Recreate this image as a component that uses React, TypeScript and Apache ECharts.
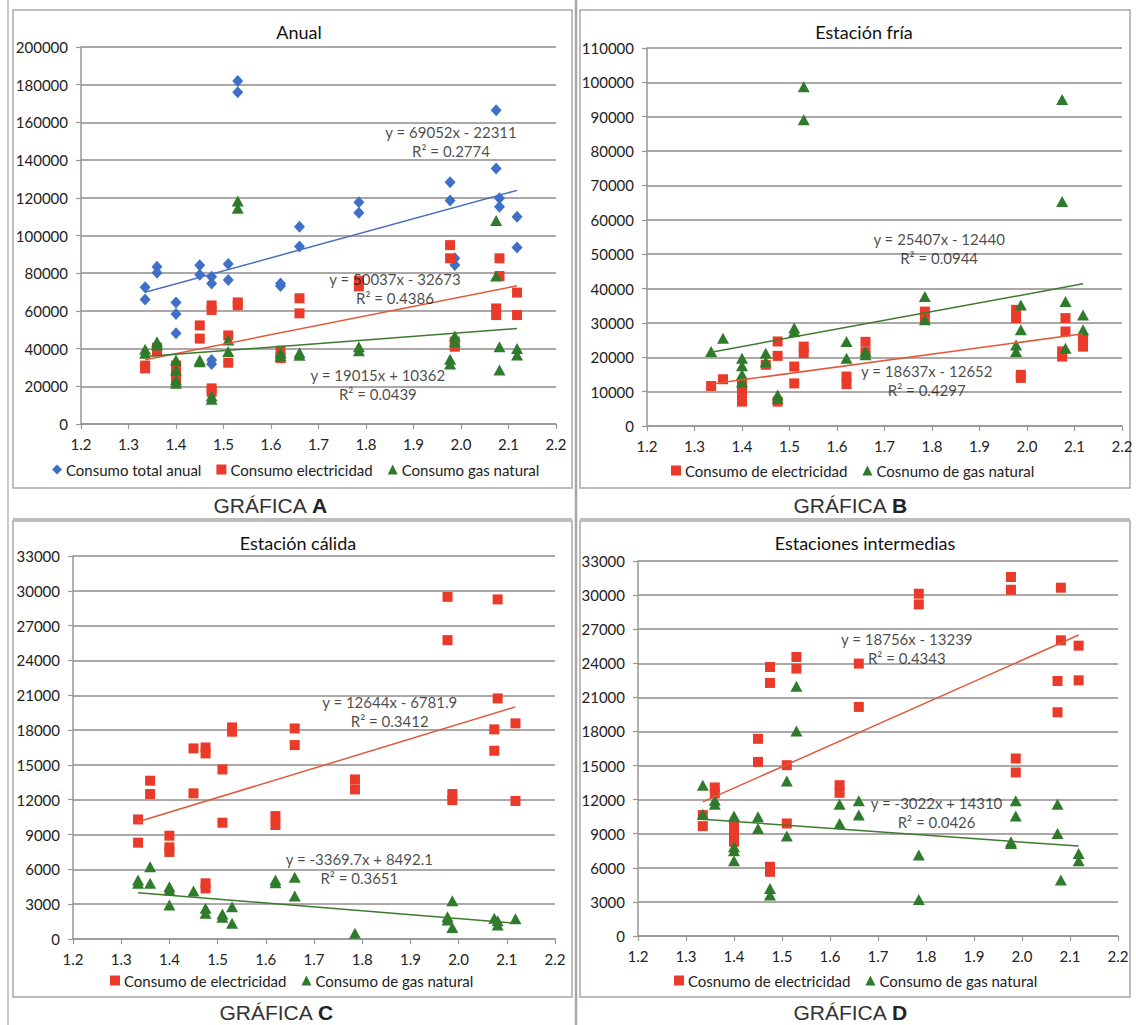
import React, { useEffect, useRef } from "react";
import * as echarts from "echarts";

type Pt = [number, number];

// ---------- DATA ----------
const xTickMin = 1.2;
const xTickMax = 2.2;
const xTickStep = 0.1;

// Panel A – Anual
const aTitle = "Anual";
const aYMax = 200000;
const aYStep = 20000;
const aTotal: Pt[] = [
  [1.335, 72500], [1.335, 66100], [1.36, 83400], [1.36, 80300],
  [1.4, 64400], [1.4, 58300], [1.4, 48100], [1.45, 84200], [1.45, 79200],
  [1.475, 78100], [1.475, 74600], [1.475, 33900], [1.475, 31800],
  [1.51, 84900], [1.51, 76400], [1.53, 182000], [1.53, 176000],
  [1.62, 74600], [1.62, 73200], [1.66, 104700], [1.66, 94100],
  [1.785, 117700], [1.785, 112100], [1.977, 128200], [1.977, 118600],
  [1.987, 87900], [1.987, 84300], [2.074, 166500], [2.074, 135600],
  [2.081, 119700], [2.081, 115300], [2.118, 110000], [2.118, 93700],
];
const aElec: Pt[] = [
  [1.335, 31000], [1.335, 29500], [1.36, 40500], [1.36, 38500],
  [1.4, 31000], [1.4, 27000], [1.4, 23500], [1.45, 52300], [1.45, 45300],
  [1.475, 62900], [1.475, 60500], [1.475, 18900], [1.475, 17100],
  [1.51, 47000], [1.51, 32500], [1.53, 64500], [1.53, 63000],
  [1.62, 38900], [1.62, 35000], [1.66, 66700], [1.66, 58700],
  [1.785, 76000], [1.785, 73000], [1.977, 94900], [1.977, 87900],
  [1.987, 43700], [1.987, 41000], [2.074, 61300], [2.074, 57800],
  [2.081, 87900], [2.081, 78500], [2.118, 69700], [2.118, 57800],
];
const aGas: Pt[] = [
  [1.335, 39600], [1.335, 37500], [1.36, 43700], [1.36, 41900],
  [1.4, 33900], [1.4, 28600], [1.4, 23300], [1.4, 21600], [1.45, 33900], [1.45, 33000],
  [1.475, 14900], [1.475, 13100], [1.51, 44600], [1.51, 38400],
  [1.53, 118300], [1.53, 114400], [1.62, 37800], [1.62, 36100],
  [1.66, 37800], [1.66, 36500], [1.785, 41000], [1.785, 38900],
  [1.977, 34300], [1.977, 31800], [1.987, 46700], [1.987, 43700],
  [2.074, 108000], [2.074, 78500], [2.081, 41000], [2.081, 28600],
  [2.118, 40100], [2.118, 36600],
];
const aTrendTotal = { slope: 69052, intercept: -22311, r2: "0.2774", at: [1.979, 149800] as Pt };
const aTrendElec = { slope: 50037, intercept: -32673, r2: "0.4386", at: [1.861, 71900] as Pt };
const aTrendGas = { slope: 19015, intercept: 10362, r2: "0.0439", at: [1.825, 20700] as Pt };

// Panel B – Estación fría
const bTitle = "Estación fría";
const bYMax = 110000;
const bYStep = 10000;
const bElec: Pt[] = [
  [1.335, 11650], [1.36, 13600], [1.4, 12000], [1.4, 9800], [1.4, 7100],
  [1.45, 17800], [1.475, 24600], [1.475, 20400], [1.475, 7100],
  [1.51, 17300], [1.51, 12400], [1.53, 23100], [1.53, 21200],
  [1.62, 14400], [1.62, 12200], [1.66, 24500], [1.66, 21500],
  [1.785, 33300], [1.785, 31400], [1.977, 33800], [1.977, 31400],
  [1.987, 14900], [1.987, 14000], [2.074, 21700], [2.074, 20200],
  [2.081, 31400], [2.081, 27500], [2.118, 25100], [2.118, 23100],
];
const bGas: Pt[] = [
  [1.335, 21700], [1.36, 25500], [1.4, 19700], [1.4, 17500], [1.4, 15000], [1.4, 12800],
  [1.45, 21200], [1.45, 18700], [1.475, 9000], [1.475, 8100],
  [1.51, 28500], [1.51, 27500], [1.53, 98700], [1.53, 89100],
  [1.62, 24600], [1.62, 19700], [1.66, 21700], [1.66, 20700],
  [1.785, 37700], [1.785, 30900], [1.977, 23600], [1.977, 21700],
  [1.987, 35200], [1.987, 28000], [2.074, 95000], [2.074, 65300],
  [2.081, 36200], [2.081, 22600], [2.118, 32300], [2.118, 28000],
];
const bTrendElec = { slope: 18637, intercept: -12652, r2: "0.4297", at: [1.789, 13100] as Pt };
const bTrendGas = { slope: 25407, intercept: -12440, r2: "0.0944", at: [1.815, 51600] as Pt };

// Panel C – Estación cálida
const cTitle = "Estación cálida";
const cYMax = 33000;
const cYStep = 3000;
const cElec: Pt[] = [
  [1.335, 10300], [1.335, 8300], [1.36, 13640], [1.36, 12490],
  [1.4, 8900], [1.4, 7900], [1.4, 7500], [1.45, 16420], [1.45, 12550],
  [1.475, 16500], [1.475, 15990], [1.475, 4800], [1.475, 4360],
  [1.51, 14610], [1.51, 10020], [1.53, 18230], [1.53, 17860],
  [1.62, 10590], [1.62, 9820], [1.66, 18140], [1.66, 16710],
  [1.785, 13750], [1.785, 12890], [1.977, 29480], [1.977, 25750],
  [1.987, 12490], [1.987, 11970], [2.074, 18060], [2.074, 16220],
  [2.081, 29260], [2.081, 20730], [2.118, 18580], [2.118, 11890],
];
const cGas: Pt[] = [
  [1.335, 5080], [1.335, 4800], [1.36, 6230], [1.36, 4800],
  [1.4, 4510], [1.4, 4220], [1.4, 2930], [1.45, 4130],
  [1.475, 2640], [1.475, 2210], [1.51, 2150], [1.51, 1870],
  [1.53, 2780], [1.53, 1350], [1.62, 5080], [1.62, 4850],
  [1.66, 5310], [1.66, 3700], [1.785, 490], [1.977, 1920], [1.977, 1640],
  [1.987, 3300], [1.987, 1000], [2.074, 1780], [2.081, 1580], [2.081, 1200],
  [2.118, 1750],
];
const cTrendElec = { slope: 12644, intercept: -6781.9, r2: "0.3412", at: [1.857, 19570] as Pt };
const cTrendGas = { slope: -3369.7, intercept: 8492.1, r2: "0.3651", at: [1.794, 6090] as Pt };

// Panel D – Estaciones intermedias
const dTitle = "Estaciones intermedias";
const dYMax = 33000;
const dYStep = 3000;
const dElec: Pt[] = [
  [1.335, 10640], [1.335, 9670], [1.36, 13070], [1.36, 12540],
  [1.4, 9670], [1.4, 8970], [1.4, 8290], [1.45, 17350], [1.45, 15320],
  [1.475, 23670], [1.475, 22270], [1.475, 6090], [1.475, 5650],
  [1.51, 15030], [1.51, 9900], [1.53, 24550], [1.53, 23530],
  [1.62, 13270], [1.62, 12600], [1.66, 23970], [1.66, 20160],
  [1.785, 30120], [1.785, 29180], [1.977, 31590], [1.977, 30470],
  [1.987, 15620], [1.987, 14390], [2.074, 22440], [2.074, 19690],
  [2.081, 30650], [2.081, 26020], [2.118, 25550], [2.118, 22500],
];
const dGas: Pt[] = [
  [1.335, 13270], [1.335, 10720], [1.36, 11950], [1.36, 11600],
  [1.4, 10550], [1.4, 7850], [1.4, 7500], [1.4, 6620], [1.45, 10490], [1.45, 9460],
  [1.475, 4190], [1.475, 3600], [1.51, 13650], [1.51, 8790],
  [1.53, 21980], [1.53, 18050], [1.62, 11600], [1.62, 9900],
  [1.66, 11900], [1.66, 10640], [1.785, 7120], [1.785, 3220],
  [1.977, 8290], [1.977, 8150], [1.987, 11900], [1.987, 10550],
  [2.074, 11600], [2.074, 9020], [2.081, 4920], [2.118, 7270], [2.118, 6620],
];
const dTrendElec = { slope: 18756, intercept: -13239, r2: "0.4343", at: [1.76, 25300] as Pt };
const dTrendGas = { slope: -3022, intercept: 14310, r2: "0.0426", at: [1.822, 10890] as Pt };

const captions = ["A", "B", "C", "D"];

// ---------- STYLE ----------
const FONT = 'Lato, "Open Sans", sans-serif';
const TXT = "#222222";
const GRID = "#928b8b";
const AXIS = "#9a9696";
const BORDER = "#aaa6a6";
const BLUE = "#3f6fc6";
const RED = "#ea3b2a";
const GREEN = "#2f7b2c";
const BLUE_L = "#4a6ec0";
const RED_L = "#e2583a";
const GREEN_L = "#3d7a2e";

type Trend = { slope: number; intercept: number; r2: string; at: Pt };
type SeriesCfg = { name: string; data: Pt[]; symbol: string; size: number | number[]; color: string; lineColor: string; trend: Trend };
type Panel = {
  title: string; titleX: number; titleY: number;
  grid: [number, number, number, number];
  yMax: number; yStep: number;
  legendLeft: number; legendTop: number;
  series: SeriesCfg[];
};

const DIAMOND = "diamond";
const SQUARE = "rect";
const TRI = "triangle";

const panels: Panel[] = [
  {
    title: aTitle, titleX: 294, titleY: 18, grid: [81, 47, 475, 377], yMax: aYMax, yStep: aYStep,
    legendLeft: 47, legendTop: 457,
    series: [
      { name: "Consumo total anual", data: aTotal, symbol: DIAMOND, size: [11, 12], color: BLUE, lineColor: BLUE_L, trend: aTrendTotal },
      { name: "Consumo electricidad", data: aElec, symbol: SQUARE, size: 10, color: RED, lineColor: RED_L, trend: aTrendElec },
      { name: "Consumo gas natural", data: aGas, symbol: TRI, size: [12, 11], color: GREEN, lineColor: GREEN_L, trend: aTrendGas },
    ],
  },
  {
    title: bTitle, titleX: 859, titleY: 18, grid: [647, 48, 475, 378], yMax: bYMax, yStep: bYStep,
    legendLeft: 666, legendTop: 458,
    series: [
      { name: "Consumo de electricidad", data: bElec, symbol: SQUARE, size: 10, color: RED, lineColor: RED_L, trend: bTrendElec },
      { name: "Cosnumo de gas natural", data: bGas, symbol: TRI, size: [12, 11], color: GREEN, lineColor: GREEN_L, trend: bTrendGas },
    ],
  },
  {
    title: cTitle, titleX: 293, titleY: 529, grid: [73, 556, 482, 383], yMax: cYMax, yStep: cYStep,
    legendLeft: 105, legendTop: 968,
    series: [
      { name: "Consumo de electricidad", data: cElec, symbol: SQUARE, size: 10, color: RED, lineColor: RED_L, trend: cTrendElec },
      { name: "Consumo de gas natural", data: cGas, symbol: TRI, size: [12, 11], color: GREEN, lineColor: GREEN_L, trend: cTrendGas },
    ],
  },
  {
    title: dTitle, titleX: 860, titleY: 529, grid: [638, 561, 480, 375], yMax: dYMax, yStep: dYStep,
    legendLeft: 669, legendTop: 968,
    series: [
      { name: "Cosnumo de electricidad", data: dElec, symbol: SQUARE, size: 10, color: RED, lineColor: RED_L, trend: dTrendElec },
      { name: "Consumo de gas natural", data: dGas, symbol: TRI, size: [12, 11], color: GREEN, lineColor: GREEN_L, trend: dTrendGas },
    ],
  },
];

const eqText = (t: Trend) =>
  `y = ${t.slope}x ${t.intercept < 0 ? "-" : "+"} ${Math.abs(t.intercept)}\nR² = ${t.r2}`;

function buildOption() {
  const grid: any[] = [];
  const xAxis: any[] = [];
  const yAxis: any[] = [];
  const series: any[] = [];
  const legend: any[] = [];
  const title: any[] = [];

  panels.forEach((p, i) => {
    grid.push({ left: p.grid[0], top: p.grid[1], width: p.grid[2], height: p.grid[3] });
    xAxis.push({
      gridIndex: i, type: "value", min: xTickMin, max: xTickMax, interval: xTickStep,
      axisLine: { show: true, onZero: false, lineStyle: { color: AXIS, width: 1.5 } },
      axisTick: { show: true, length: 5, lineStyle: { color: AXIS, width: 1.2 } },
      splitLine: { show: false },
      axisLabel: { formatter: (v: number) => v.toFixed(1), margin: 12, fontFamily: FONT, fontSize: 15, color: TXT, showMinLabel: true, showMaxLabel: true },
    });
    yAxis.push({
      gridIndex: i, type: "value", min: 0, max: p.yMax, interval: p.yStep,
      axisLine: { show: true, lineStyle: { color: AXIS, width: 1.5 } },
      axisTick: { show: true, length: 5, lineStyle: { color: AXIS, width: 1.2 } },
      splitLine: { show: true, lineStyle: { color: GRID, width: 1.6 } },
      axisLabel: { formatter: (v: number) => String(Math.round(v)), margin: 13, fontFamily: FONT, fontSize: 15, color: TXT },
    });
    title.push({
      text: p.title, left: p.titleX, top: p.titleY, textAlign: "center",
      textStyle: { fontFamily: FONT, fontSize: 18, fontWeight: "normal", color: "#111" },
    });
    legend.push({
      left: p.legendLeft, top: p.legendTop, itemWidth: 10, itemHeight: 10, itemGap: 15,
      textStyle: { fontFamily: FONT, fontSize: 15, color: TXT, padding: [0, 0, 0, -1] },
      data: p.series.map((s) => ({ name: s.name, icon: s.symbol, itemStyle: { color: s.color } })),
      selectedMode: false,
    });
    p.series.forEach((s) => {
      series.push({
        type: "scatter", name: s.name, xAxisIndex: i, yAxisIndex: i, data: s.data,
        symbol: s.symbol, symbolSize: s.size, itemStyle: { color: s.color, opacity: 1 }, z: 3,
      });
    });
    p.series.forEach((s, k) => {
      const xs = s.data.map((d) => d[0]);
      const x0 = Math.min(...xs);
      const x1 = Math.max(...xs);
      const f = (x: number) => s.trend.slope * x + s.trend.intercept;
      series.push({
        type: "line", name: `trend-${i}-${k}`, xAxisIndex: i, yAxisIndex: i,
        data: [[x0, f(x0)], [x1, f(x1)]], showSymbol: false, symbol: "none", silent: true,
        lineStyle: { color: s.lineColor, width: 1.5 }, z: 4,
      });
      series.push({
        type: "scatter", name: `label-${i}-${k}`, xAxisIndex: i, yAxisIndex: i,
        data: [s.trend.at], symbolSize: 0, silent: true, z: 5,
        label: {
          show: true, position: "inside", formatter: () => eqText(s.trend),
          fontFamily: FONT, fontSize: 15, color: "#1a1a1a", lineHeight: 19, align: "center",
        },
      });
    });
  });

  const elements: any[] = [];
  const rect = (x: number, y: number, w: number, h: number) => ({
    type: "rect", shape: { x, y, width: w, height: h }, silent: true,
    style: { fill: "none", stroke: BORDER, lineWidth: 1.5 },
  });
  const line = (x1: number, y1: number, x2: number, y2: number, w = 1.5) => ({
    type: "line", shape: { x1, y1, x2, y2 }, silent: true,
    style: { stroke: BORDER, lineWidth: w },
  });
  elements.push(rect(13, 10, 559, 478));
  elements.push(rect(580, 10, 550, 478));
  elements.push(rect(13, 521, 559, 476));
  elements.push(rect(580, 521, 550, 476));
  elements.push(line(13, 519, 572, 519));
  elements.push(line(580, 519, 1130, 519));
  elements.push(line(576, 0, 576, 1025, 2.5));
  elements.push(line(8, 0, 8, 1025, 1.2));
  const capPos: Pt[] = [[270, 505], [850, 505], [276, 1012], [850, 1012]];
  captions.forEach((c, i) => {
    elements.push({
      type: "text", x: capPos[i][0], y: capPos[i][1], silent: true,
      style: {
        text: `{a|GRÁFICA }{b|${c}}`, align: "center", verticalAlign: "middle",
        rich: {
          a: { fontFamily: '"Liberation Sans", Arial, sans-serif', fontSize: 21, fill: "#333" },
          b: { fontFamily: '"Liberation Sans", Arial, sans-serif', fontSize: 21, fontWeight: "bold", fill: "#222" },
        },
      },
    });
  });

  return {
    animation: false,
    backgroundColor: "#ffffff",
    title, grid, xAxis, yAxis, legend, series,
    graphic: { elements },
  };
}

export default function App() {
  const ref = useRef<HTMLDivElement>(null);
  useEffect(() => {
    if (!ref.current) return;
    const chart = echarts.init(ref.current, undefined, { renderer: "svg" });
    chart.setOption(buildOption() as any);
    return () => chart.dispose();
  }, []);
  return (
    <div
      ref={ref}
      style={{ position: "absolute", left: 0, top: 0, width: 1136, height: 1025 }}
    />
  );
}
